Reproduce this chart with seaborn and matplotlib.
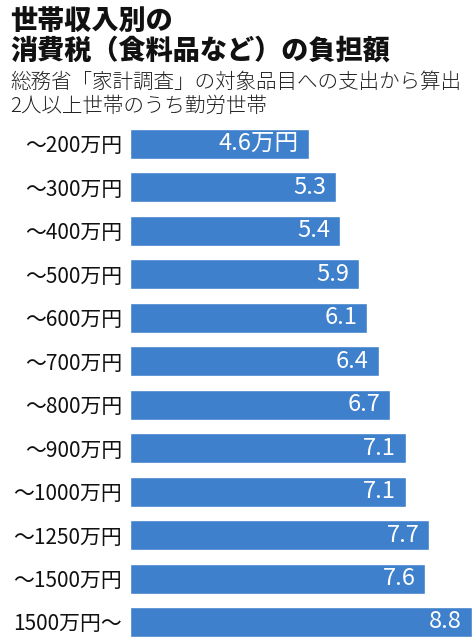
import matplotlib
matplotlib.use("Agg")
import matplotlib.pyplot as plt
import seaborn as sns
import pandas as pd

categories = ["～200万円", "～300万円", "～400万円", "～500万円", "～600万円", "～700万円",
              "～800万円", "～900万円", "～1000万円", "～1250万円", "～1500万円", "1500万円～"]
values = [4.6, 5.3, 5.4, 5.9, 6.1, 6.4, 6.7, 7.1, 7.1, 7.7, 7.6, 8.8]
value_labels = ["4.6万円", "5.3", "5.4", "5.9", "6.1", "6.4", "6.7", "7.1", "7.1", "7.7", "7.6", "8.8"]
title_lines = ["世帯収入別の", "消費税（食料品など）の負担額"]
subtitle_lines = ["総務省「家計調査」の対象品目への支出から算出", "2人以上世帯のうち勤労世帯"]

sns.set_theme(style="white")
CJK = ["Noto Sans CJK JP", "DejaVu Sans"]
plt.rcParams["font.family"] = CJK

df = pd.DataFrame({"cat": categories, "val": values})

W, H = 477, 642
fig = plt.figure(figsize=(W / 100, H / 100), dpi=100)
left_px, top_px = 130, 122
ax = fig.add_axes([left_px / W, 0, 1 - left_px / W, (H - top_px) / H])

sns.barplot(data=df, x="val", y="cat", orient="h", color="#3e80cc", saturation=1,
            width=0.69, ax=ax)
ax.set_xlim(0, 8.93)
ax.set_ylim(11.46, -0.5)
for s in ax.spines.values():
    s.set_visible(False)
ax.set_xticks([])
ax.set_xlabel("")
ax.set_ylabel("")
ax.tick_params(axis="y", length=0, pad=5.5)
for lab in ax.get_yticklabels():
    lab.set_fontsize(15)
    lab.set_color("#111111")

for i, (v, t) in enumerate(zip(values, value_labels)):
    ax.annotate(t, xy=(v, i), xytext=(-7, 0), textcoords="offset points",
                ha="right", va="center", color="white", fontsize=17)

fig.text(10 / W, 1 - 21 / H, title_lines[0], fontsize=19.5, fontweight="heavy",
         va="center", ha="left", color="#111111")
fig.text(10 / W, 1 - 50 / H, title_lines[1], fontsize=19.5, fontweight="heavy",
         va="center", ha="left", color="#111111")
fig.text(10 / W, 1 - 82 / H, subtitle_lines[0], fontsize=14.8, fontweight="light",
         va="center", ha="left", color="#222222")
fig.text(10 / W, 1 - 106 / H, subtitle_lines[1], fontsize=14.8, fontweight="light",
         va="center", ha="left", color="#222222")

fig.savefig("out.png", dpi=100)
